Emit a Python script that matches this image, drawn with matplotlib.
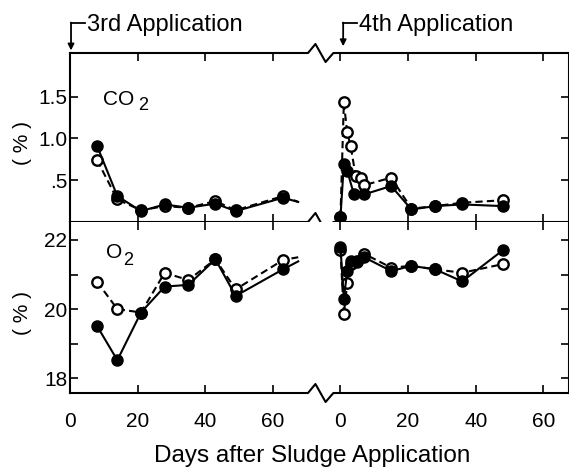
import matplotlib
matplotlib.use('Agg')
import matplotlib.pyplot as plt
from matplotlib import transforms

plt.rcParams['font.family'] = ['Liberation Sans', 'DejaVu Sans']

# the 4th application is drawn on the same axis, shifted by this many days
OFFSET = 80
BREAK = [70.4, 72.6, 75.6, 77.9]   # zigzag of the broken axis (plot days)
XMAX = 147.6

# ---- 3rd application (last entry = line running off towards the break) ----
days_3rd = [8, 14, 21, 28, 35, 43, 49, 63, 67.5]
co2_3rd_filled = [0.91, 0.31, 0.13, 0.21, 0.17, 0.22, 0.13, 0.29, 0.24]
co2_3rd_open = [0.74, 0.27, 0.14, 0.19, 0.17, 0.25, 0.14, 0.31, 0.24]
o2_3rd_filled = [19.51, 18.52, 19.90, 20.65, 20.70, 21.44, 20.38, 21.15, 21.38]
o2_3rd_open = [20.79, 20.00, 19.90, 21.05, 20.84, 21.44, 20.57, 21.42, 21.50]

# ---- 4th application ----
days_4th_co2_filled = [0, 1, 2, 4, 7, 15, 21, 28, 36, 48]
co2_4th_filled = [0.06, 0.69, 0.61, 0.33, 0.33, 0.43, 0.15, 0.19, 0.21, 0.19]
days_4th_co2_open = [0, 1, 2, 3, 4.5, 6, 7, 15, 21, 28, 36, 48]
co2_4th_open = [0.06, 1.43, 1.07, 0.91, 0.55, 0.53, 0.44, 0.53, 0.16, 0.19, 0.23, 0.26]

days_4th_o2 = [0, 1, 2, 3, 5, 7, 15, 21, 28, 36, 48]
o2_4th_filled = [21.80, 20.30, 21.10, 21.40, 21.35, 21.50, 21.10, 21.25, 21.15, 20.80, 21.70]
o2_4th_open = [21.70, 19.85, 20.75, 21.30, 21.40, 21.60, 21.20, 21.25, 21.15, 21.05, 21.30]

xtick_pos = [0, 20, 40, 60, OFFSET, OFFSET + 20, OFFSET + 40, OFFSET + 60]
xtick_lab = ['0', '20', '40', '60', '0', '20', '40', '60']

fig = plt.figure(figsize=(5.69, 4.69), dpi=100)
ax1 = fig.add_axes([70 / 569, 247 / 469, 499 / 569, 169 / 469])
ax2 = fig.add_axes([70 / 569, 76 / 469, 499 / 569, 171 / 469])

filled_kw = dict(color='k', lw=1.5, marker='o', ms=8, mfc='k', mec='k', zorder=4)
open_kw = dict(color='k', lw=1.5, dashes=(3.5, 2), marker='o', ms=7.5, mfc='white',
               mec='k', mew=1.7, zorder=3)


def shift(days):
    return [d + OFFSET for d in days]


def draw_series(ax, d3, f3, o3, d4f, f4, d4o, o4):
    n = len(d3)
    ax.plot(d3, o3, markevery=list(range(n - 1)), **open_kw)
    ax.plot(d3, f3, markevery=list(range(n - 1)), **filled_kw)
    ax.plot(shift(d4o), o4, **open_kw)
    ax.plot(shift(d4f), f4, **filled_kw)


def break_spine(ax, y, amp_px=9):
    trans = transforms.blended_transform_factory(ax.transData, ax.transAxes)
    h = ax.get_position().height * fig.get_figheight() * fig.dpi
    a = amp_px / h
    xs = [0] + BREAK + [XMAX]
    ys = [y, y, y + a, y - a, y, y]
    ax.plot(xs, ys, transform=trans, color='k', lw=1.5, clip_on=False, zorder=6)


draw_series(ax1, days_3rd, co2_3rd_filled, co2_3rd_open,
            days_4th_co2_filled, co2_4th_filled, days_4th_co2_open, co2_4th_open)
draw_series(ax2, days_3rd, o2_3rd_filled, o2_3rd_open,
            days_4th_o2, o2_4th_filled, days_4th_o2, o2_4th_open)

ax1.set_ylim(0, 2.02)
ax1.set_yticks([0.5, 1.0, 1.5])
ax1.set_yticklabels(['.5', '1.0', '1.5'])
ax2.set_ylim(17.57, 22.52)
ax2.set_yticks([18, 20, 22])
ax2.set_yticks([19, 21], minor=True)

for ax in (ax1, ax2):
    ax.set_xlim(0, XMAX)
    ax.set_xticks(xtick_pos)
    ax.set_xticklabels(xtick_lab)
    ax.tick_params(which='both', direction='in', top=True, right=True, length=6,
                   width=1.2, labelsize=15, labelcolor='k')
    ax.tick_params(axis='y', pad=2)
    ax.tick_params(axis='x', pad=14)
    for side in ('top', 'bottom'):
        ax.spines[side].set_visible(False)
    for side in ('left', 'right'):
        ax.spines[side].set_linewidth(1.5)
    break_spine(ax, 0)
ax1.tick_params(axis='x', labelbottom=False)
break_spine(ax1, 1)

# y labels and gas names
fig.text(22 / 569, 0.695, '( % )', rotation=90, ha='center', va='center', fontsize=15)
fig.text(22 / 569, 0.333, '( % )', rotation=90, ha='center', va='center', fontsize=15)
ax1.text(0.066, 0.692, 'CO', transform=ax1.transAxes, fontsize=15, va='baseline')
ax1.text(0.136, 0.663, '2', transform=ax1.transAxes, fontsize=13, va='baseline')
ax2.text(0.072, 0.789, 'O', transform=ax2.transAxes, fontsize=15, va='baseline')
ax2.text(0.106, 0.749, '2', transform=ax2.transAxes, fontsize=13, va='baseline')

# application markers above the top panel
trans1 = transforms.blended_transform_factory(ax1.transData, ax1.transAxes)
for x0, tip, label in [(0.3, 1.015, '3rd Application'), (OFFSET + 0.8, 1.04, '4th Application')]:
    ax1.annotate('', xy=(x0, tip), xytext=(x0, 1.18), xycoords=trans1, textcoords=trans1,
                 arrowprops=dict(arrowstyle='-|>', color='k', lw=1.3, mutation_scale=9,
                                 shrinkA=0, shrinkB=0), annotation_clip=False)
    ax1.plot([x0, x0 + 4], [1.18, 1.18], transform=trans1, color='k', lw=1.3, clip_on=False)
    ax1.text(x0 + 4.8, 1.13, label, transform=trans1, fontsize=17, va='baseline')

fig.text(312 / 569, 7 / 469, 'Days after Sludge Application', ha='center', va='baseline',
         fontsize=17.5)

fig.savefig('out.png', dpi=100)
